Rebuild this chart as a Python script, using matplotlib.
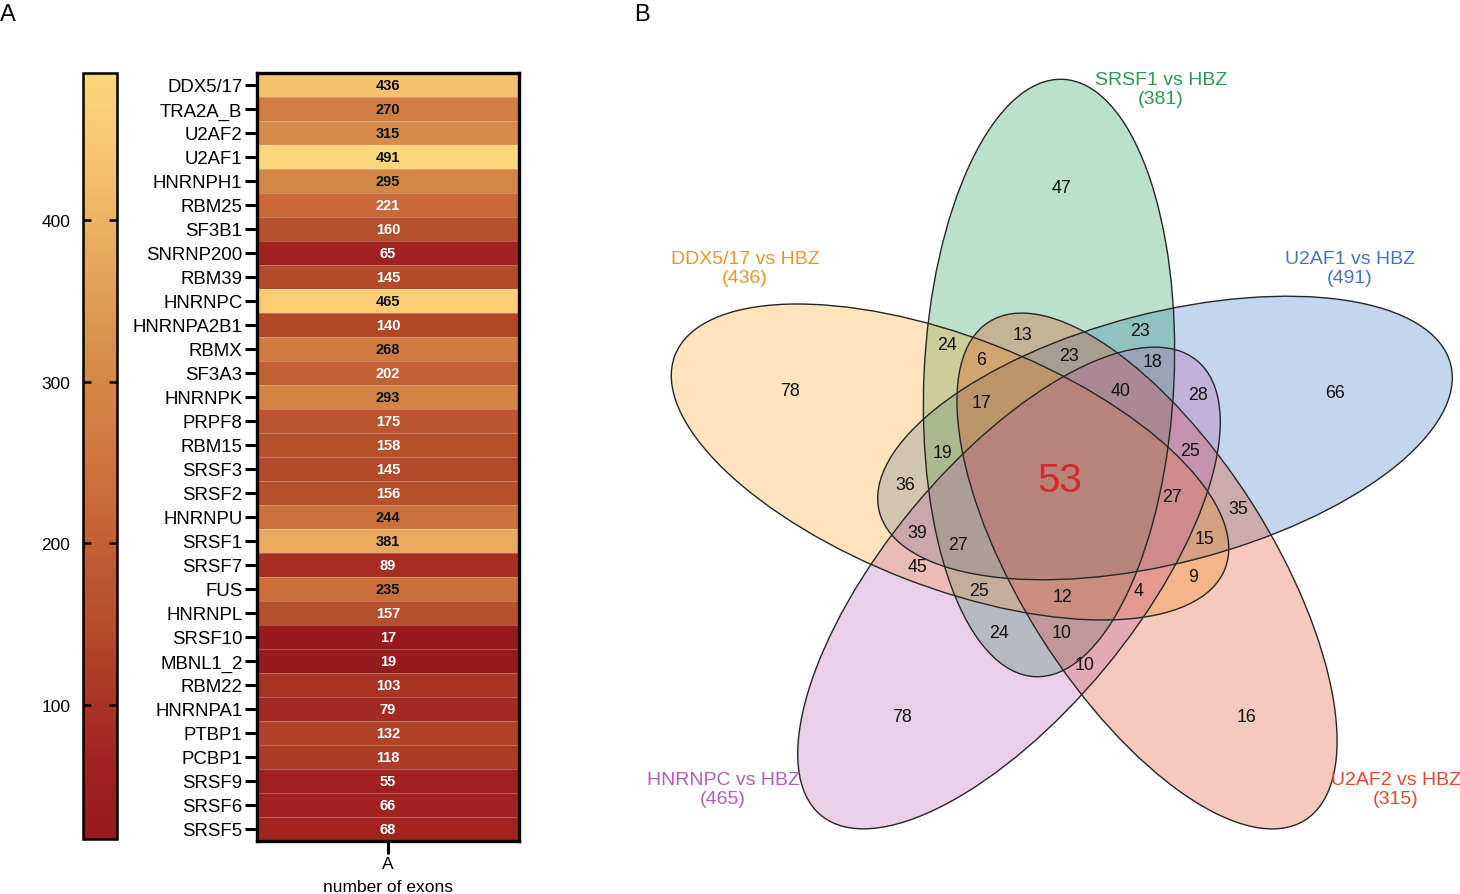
import numpy as np
import matplotlib
matplotlib.use("Agg")
import matplotlib.pyplot as plt
from matplotlib.patches import Ellipse
from matplotlib.colors import LinearSegmentedColormap, Normalize

plt.rcParams['font.family'] = ['Liberation Sans', 'DejaVu Sans']

# ---------------- data: heatmap ----------------
genes = ["DDX5/17", "TRA2A_B", "U2AF2", "U2AF1", "HNRNPH1", "RBM25", "SF3B1",
         "SNRNP200", "RBM39", "HNRNPC", "HNRNPA2B1", "RBMX", "SF3A3", "HNRNPK",
         "PRPF8", "RBM15", "SRSF3", "SRSF2", "HNRNPU", "SRSF1", "SRSF7", "FUS",
         "HNRNPL", "SRSF10", "MBNL1_2", "RBM22", "HNRNPA1", "PTBP1", "PCBP1",
         "SRSF9", "SRSF6", "SRSF5"]
exons = [436, 270, 315, 491, 295, 221, 160, 65, 145, 465, 140, 268, 202, 293,
         175, 158, 145, 156, 244, 381, 89, 235, 157, 17, 19, 103, 79, 132, 118,
         55, 66, 68]
column_label = ["A"]
cbar_ticks = [100, 200, 300, 400]

# ---------------- data: venn ----------------
set_names = ["SRSF1 vs HBZ", "U2AF1 vs HBZ", "U2AF2 vs HBZ", "HNRNPC vs HBZ", "DDX5/17 vs HBZ"]
set_totals = [381, 491, 315, 465, 436]
region_counts = [47, 66, 16, 78, 78,
                 24, 13, 23, 6, 23, 18, 40, 28, 17, 19, 25, 36,
                 53,
                 27, 35, 39, 27, 15, 45, 9, 25, 12, 4, 24, 10, 10]
center_index = 17

# ---------------- layout (pixel geometry of the venn) ----------------
region_xy = [(1062, 188), (1335, 394), (1247, 717), (902, 717), (790, 392),
             (947, 345), (1023, 335), (1140, 331), (981, 360), (1069, 356),
             (1152, 362), (1121, 392), (1198, 395), (982, 403), (943, 453),
             (1190, 452), (905, 485),
             (1060, 481),
             (1172, 497), (1238, 510), (917, 533), (958, 545), (1205, 540),
             (918, 567), (1193, 577), (979, 591), (1062, 598), (1139, 591),
             (999, 634), (1062, 633), (1085, 666)]
# ellipse geometry: centre x, centre y, semi-major, semi-minor, angle (deg, visual, ccw)
ell_geom = {
    "SRSF1 vs HBZ":   (1049, 379, 299, 125, 87.3),
    "U2AF1 vs HBZ":   (1165, 439, 295, 125, 14.5),
    "U2AF2 vs HBZ":   (1147, 572, 295, 125, 122.4),
    "HNRNPC vs HBZ":  (1009, 589, 295, 125, 50.4),
    "DDX5/17 vs HBZ": (950, 463, 295, 125, -21.2),
}
fill_cols = {
    "SRSF1 vs HBZ": "#0c9448",
    "DDX5/17 vs HBZ": "#f89e0f",
    "U2AF1 vs HBZ": "#2d6cc0",
    "HNRNPC vs HBZ": "#b655a8",
    "U2AF2 vs HBZ": "#e13e0f",
}
text_cols = {
    "SRSF1 vs HBZ": "#2a9a54",
    "DDX5/17 vs HBZ": "#e8962e",
    "U2AF1 vs HBZ": "#4a72c0",
    "HNRNPC vs HBZ": "#b45db4",
    "U2AF2 vs HBZ": "#e0482a",
}
label_xy = {
    "SRSF1 vs HBZ": (1161, 80),
    "DDX5/17 vs HBZ": (745, 259),
    "U2AF1 vs HBZ": (1350, 259),
    "HNRNPC vs HBZ": (723, 781),
    "U2AF2 vs HBZ": (1396, 781),
}
draw_order = ["U2AF1 vs HBZ", "SRSF1 vs HBZ", "DDX5/17 vs HBZ", "U2AF2 vs HBZ", "HNRNPC vs HBZ"]

W, H = 1460, 895
fig = plt.figure(figsize=(W / 100, H / 100), dpi=100)

def fx(px):
    return px / W

def fy(py):
    return 1 - py / H

# ---------------- heatmap ----------------
vmin, vmax = min(exons), max(exons)
cmap = LinearSegmentedColormap.from_list("exons", [
    (0.0, "#961a1e"), (0.10, "#a0231f"), (0.30, "#b9502d"), (0.43, "#c86937"),
    (0.534, "#d07d41"), (0.629, "#d78c4b"), (0.884, "#f5c370"), (1.0, "#fed67a")])
norm = Normalize(vmin=vmin, vmax=vmax)

hx0, hx1, hy0, hy1 = 257, 519, 74, 842
ax = fig.add_axes([fx(hx0), fy(hy1), fx(hx1) - fx(hx0), fy(hy0) - fy(hy1)])
n = len(genes)
vals = np.array(exons, dtype=float).reshape(n, 1)
ax.pcolormesh(np.arange(2), np.arange(n + 1), vals, cmap=cmap, norm=norm,
              edgecolors=(1, 1, 1, 0.25), linewidth=0.6)
ax.set_xlim(0, 1)
ax.set_ylim(n, 0)
for i, v in enumerate(exons):
    ax.text(0.5, i + 0.5, str(v), ha="center", va="center", fontsize=10.5,
            fontweight="bold", color="#111111" if v > 230 else "white")
ax.set_yticks(np.arange(n) + 0.5)
ax.set_yticklabels(genes, fontsize=13.4)
ax.set_xticks([0.5])
ax.set_xticklabels(column_label, fontsize=12.5)
ax.tick_params(axis="both", length=9, width=2.2, pad=1.5, color="black")
ax.tick_params(axis="x", pad=2)
for s in ax.spines.values():
    s.set_linewidth(2.4)
ax.set_xlabel("number of exons", fontsize=12.5, labelpad=5.5)

# colorbar
cx0, cx1, cy0, cy1 = 83, 117, 74, 840
cax = fig.add_axes([fx(cx0), fy(cy1), fx(cx1) - fx(cx0), fy(cy0) - fy(cy1)])
sm = plt.cm.ScalarMappable(norm=norm, cmap=cmap)
cb = fig.colorbar(sm, cax=cax, ticks=cbar_ticks)
cb.outline.set_linewidth(1.8)
cax.yaxis.set_ticks_position("both")
cax.yaxis.set_label_position("left")
cax.tick_params(axis="y", direction="in", length=6, width=1.8, pad=9,
                labelleft=True, labelright=False, labelsize=12.5)

# ---------------- venn ----------------
vx0 = 630
vax = fig.add_axes([fx(vx0), 0, 1 - fx(vx0), 1])
vax.set_xlim(vx0, W)
vax.set_ylim(H, 0)
vax.axis("off")
for name in draw_order:
    cx, cy, a, b, ang = ell_geom[name]
    vax.add_patch(Ellipse((cx, cy), 2 * a, 2 * b, angle=-ang,
                          facecolor=fill_cols[name], edgecolor="none", alpha=0.28))
for name in draw_order:
    cx, cy, a, b, ang = ell_geom[name]
    vax.add_patch(Ellipse((cx, cy), 2 * a, 2 * b, angle=-ang,
                          facecolor="none", edgecolor="#262626", linewidth=1.0))
for i, (cnt, (x, y)) in enumerate(zip(region_counts, region_xy)):
    if i == center_index:
        vax.text(x, y, str(cnt), ha="center", va="center", fontsize=29, color="#d42a2a")
    else:
        vax.text(x, y, str(cnt), ha="center", va="center", fontsize=12.8, color="#111111")
for name, tot in zip(set_names, set_totals):
    x, y = label_xy[name]
    vax.text(x, y, name, ha="center", va="center", fontsize=14, color=text_cols[name])
    vax.text(x, y + 19, f"({tot})", ha="center", va="center", fontsize=14, color=text_cols[name])

# panel letters
fig.text(fx(8), fy(15), "A", ha="center", va="center", fontsize=17)
fig.text(fx(642), fy(15), "B", ha="center", va="center", fontsize=17)

fig.savefig("out.png", dpi=100)
